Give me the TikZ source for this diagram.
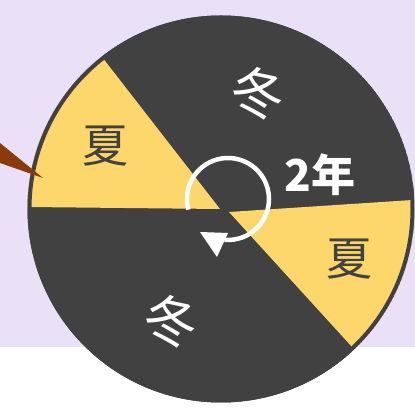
\documentclass[tikz,border=0pt]{standalone}
\usepackage{fontspec}
\newfontfamily\cjk{Noto Sans CJK SC}
\definecolor{lav}{HTML}{EAE1F8}
\definecolor{dk}{HTML}{414141}
\definecolor{yel}{HTML}{FDD76B}
\definecolor{brn}{HTML}{8B3A0B}
\begin{document}
\begin{tikzpicture}[x=1pt,y=1pt,
  season/.style={font=\cjk\fontsize{46}{46}\selectfont, inner sep=0pt},
  winter/.style={font=\cjk\fontsize{54}{54}\selectfont, inner sep=0pt, text=white, rotate=-12},
  yearlabel/.style={font=\cjk\bfseries\fontsize{44}{44}\selectfont, text=white, inner sep=0pt}]
\useasboundingbox (0,0) rectangle (415,409);
\fill[white] (0,0) rectangle (415,62);
\fill[lav] (0,62) rectangle (415,409);
\coordinate (wc) at (221,200);
\begin{scope}
  \clip (wc) circle[radius=193.5];
  \fill[dk] (wc) circle[radius=193.5];
  \fill[yel] (220,200) -- (50,419) -- (-20,419) -- (-20,202.5) -- cycle;
  \fill[yel] (229,197) -- (440,210.8) -- (477,-75) -- cycle;
\end{scope}
\draw[dk, line width=4pt] (wc) circle[radius=191.5];
\fill[brn] (0,266) -- (43,231) -- (0,246) -- cycle;
\node[season, text=dk] (xia1) at (105,263) {夏};
\node[season, text=dk] (xia2) at (349,150) {夏};
\node[winter] (dong1) at (258.5,315.5) {冬};
\node[winter] (dong2) at (171.5,87.5) {冬};
\node[yearlabel] (yr) at (320,234) {2年};
\coordinate (ac) at (228,210);
\draw[white, line width=4.5pt] ([shift={(195:41)}]ac) arc[start angle=195, end angle=-95, radius=41];
\fill[white] (200,177) -- (228,176) -- (217,152) -- cycle;
\end{tikzpicture}
\end{document}
